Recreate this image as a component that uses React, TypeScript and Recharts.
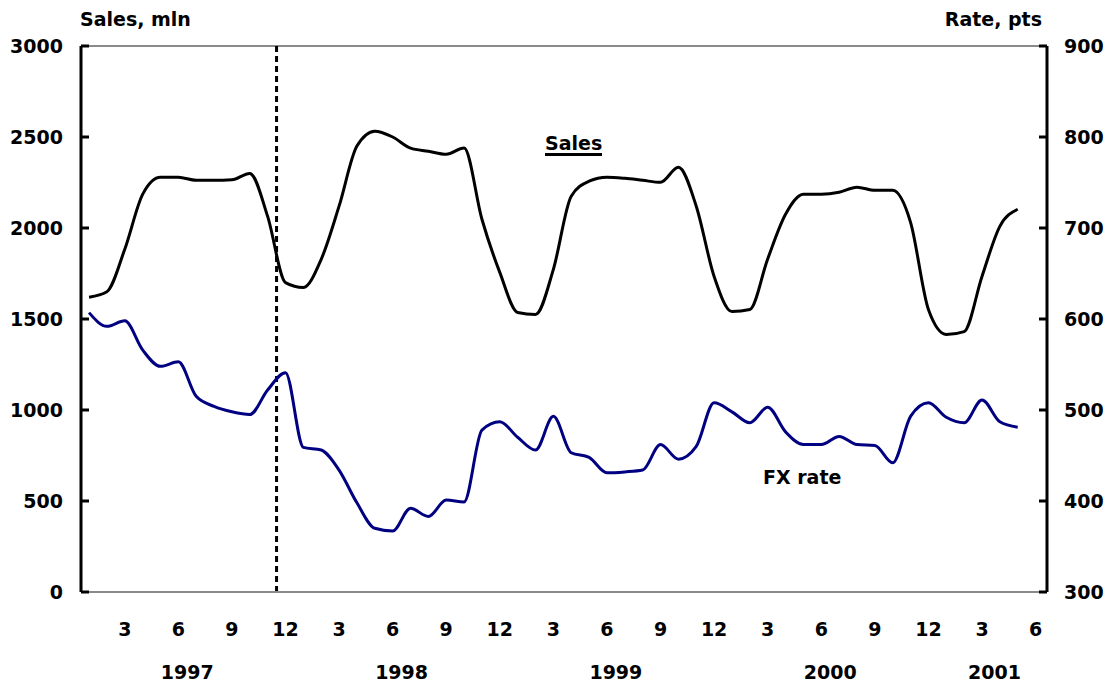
import React from "react";
import { LineChart, Line, XAxis, YAxis, ReferenceLine } from "recharts";

// monthly, Jan 1997 .. May 2001
const monthIndex = Array.from({ length: 53 }, (_, i) => i);

const salesValues = [
  1620, 1650, 1883, 2185, 2279, 2279, 2262, 2262, 2265, 2300,
  2064, 1700, 1673, 1828, 2120, 2450, 2532, 2500, 2439, 2422,
  2405, 2439, 2048, 1756, 1536, 1525, 1773, 2175, 2257, 2279,
  2273, 2262, 2251, 2334, 2120, 1734, 1541, 1552, 1830, 2075,
  2185, 2185, 2196, 2224, 2207, 2207, 2031, 1552, 1415, 1431,
  1734, 2009, 2103,
];

const rateValues = [
  607, 592, 598, 566, 548, 553, 515, 504, 498, 495,
  522, 541, 459, 456, 434, 398, 370, 367, 392, 383,
  401, 399, 478, 487, 470, 456, 493, 453, 448, 431,
  432, 434, 462, 446, 460, 508, 498, 486, 503, 476,
  462, 462, 471, 462, 461, 442, 493, 508, 492, 486,
  511, 487, 481,
];

const leftTicks = [0, 500, 1000, 1500, 2000, 2500, 3000];
const rightTicks = [300, 400, 500, 600, 700, 800, 900];
const monthTicks = [2, 5, 8, 11, 14, 17, 20, 23, 26, 29, 32, 35, 38, 41, 44, 47, 50, 53];
const yearTicks = [5.5, 17.5, 29.5, 41.5, 50.7];
const yearLabels = ["1997", "1998", "1999", "2000", "2001"];

const crisisMark = 10.5;

const rows = monthIndex.map((i) => ({ idx: i, sales: salesValues[i], rate: rateValues[i] }));

const FONT = "'DejaVu Sans', sans-serif";
const textStyle = { fontFamily: FONT, fontSize: 19, fontWeight: 700, fill: "#000" };

function LeftTick(props: any) {
  const { x, y, payload } = props;
  return (
    <g>
      <line x1={x + 18} x2={x + 26} y1={y} y2={y} stroke="#000" strokeWidth={3} />
      <text x={x} y={y} dy="0.36em" textAnchor="end" style={textStyle}>
        {payload.value}
      </text>
    </g>
  );
}

function RightTick(props: any) {
  const { x, y, payload } = props;
  return (
    <g>
      <line x1={x - 17} x2={x - 25} y1={y} y2={y} stroke="#000" strokeWidth={3} />
      <text x={x} y={y} dy="0.36em" textAnchor="start" style={textStyle}>
        {payload.value}
      </text>
    </g>
  );
}

function MonthTick(props: any) {
  const { x, y, payload } = props;
  return (
    <text x={x} y={y} dy="0.36em" textAnchor="middle" style={textStyle}>
      {(payload.value % 12) + 1}
    </text>
  );
}

function YearTick(props: any) {
  const { x, y, payload } = props;
  const k = yearTicks.indexOf(payload.value);
  return (
    <text x={x} y={y} dy="0.36em" textAnchor="middle" style={textStyle}>
      {yearLabels[k]}
    </text>
  );
}

const xDomain: [number, number] = [-0.45, 53.64];

export default function App() {
  return (
    <div style={{ position: "absolute", left: 0, top: 0, width: 1107, height: 683, background: "#fff" }}>
      <LineChart width={1107} height={683} data={rows} margin={{ top: 46, right: 0, bottom: 0, left: 0 }}>
        <XAxis
          xAxisId="m"
          type="number"
          dataKey="idx"
          domain={xDomain}
          ticks={monthTicks}
          allowDataOverflow
          height={45}
          tickSize={0}
          tickMargin={37}
          tickLine={false}
          axisLine={{ stroke: "#8a8a8a", strokeWidth: 2 }}
          tick={<MonthTick />}
          interval={0}
        />
        <XAxis
          xAxisId="y"
          type="number"
          dataKey="idx"
          domain={xDomain}
          ticks={yearTicks}
          allowDataOverflow
          height={46}
          tickSize={0}
          tickMargin={35}
          tickLine={false}
          axisLine={false}
          tick={<YearTick />}
          interval={0}
        />
        <YAxis
          yAxisId="l"
          orientation="left"
          width={81}
          domain={[0, 3000]}
          ticks={leftTicks}
          tickSize={0}
          tickMargin={18}
          tickLine={false}
          axisLine={{ stroke: "#000", strokeWidth: 3 }}
          tick={<LeftTick />}
          interval={0}
        />
        <YAxis
          yAxisId="r"
          orientation="right"
          width={60}
          domain={[300, 900]}
          ticks={rightTicks}
          tickSize={0}
          tickMargin={17}
          tickLine={false}
          axisLine={{ stroke: "#000", strokeWidth: 3 }}
          tick={<RightTick />}
          interval={0}
        />
        <ReferenceLine xAxisId="m" yAxisId="l" y={3000} stroke="#8a8a8a" strokeWidth={2} />
        <ReferenceLine
          xAxisId="m"
          yAxisId="l"
          x={crisisMark}
          stroke="#000"
          strokeWidth={3}
          strokeDasharray="6 4"
        />
        <Line
          xAxisId="m"
          yAxisId="l"
          type="monotone"
          dataKey="sales"
          stroke="#000"
          strokeWidth={3}
          dot={false}
          isAnimationActive={false}
        />
        <Line
          xAxisId="m"
          yAxisId="r"
          type="monotone"
          dataKey="rate"
          stroke="#000080"
          strokeWidth={3}
          dot={false}
          isAnimationActive={false}
        />
      </LineChart>
      <div style={{ position: "absolute", left: 80, top: 8, font: `700 19px ${FONT}` }}>Sales, mln</div>
      <div style={{ position: "absolute", right: 65, top: 8, font: `700 19px ${FONT}` }}>Rate, pts</div>
      <div
        style={{
          position: "absolute",
          left: 545,
          top: 133,
          font: `700 19px ${FONT}`,
          borderBottom: "3px solid #000",
          lineHeight: "20px",
        }}
      >
        Sales
      </div>
      <div style={{ position: "absolute", left: 763, top: 466, font: `700 19px ${FONT}` }}>FX rate</div>
    </div>
  );
}
